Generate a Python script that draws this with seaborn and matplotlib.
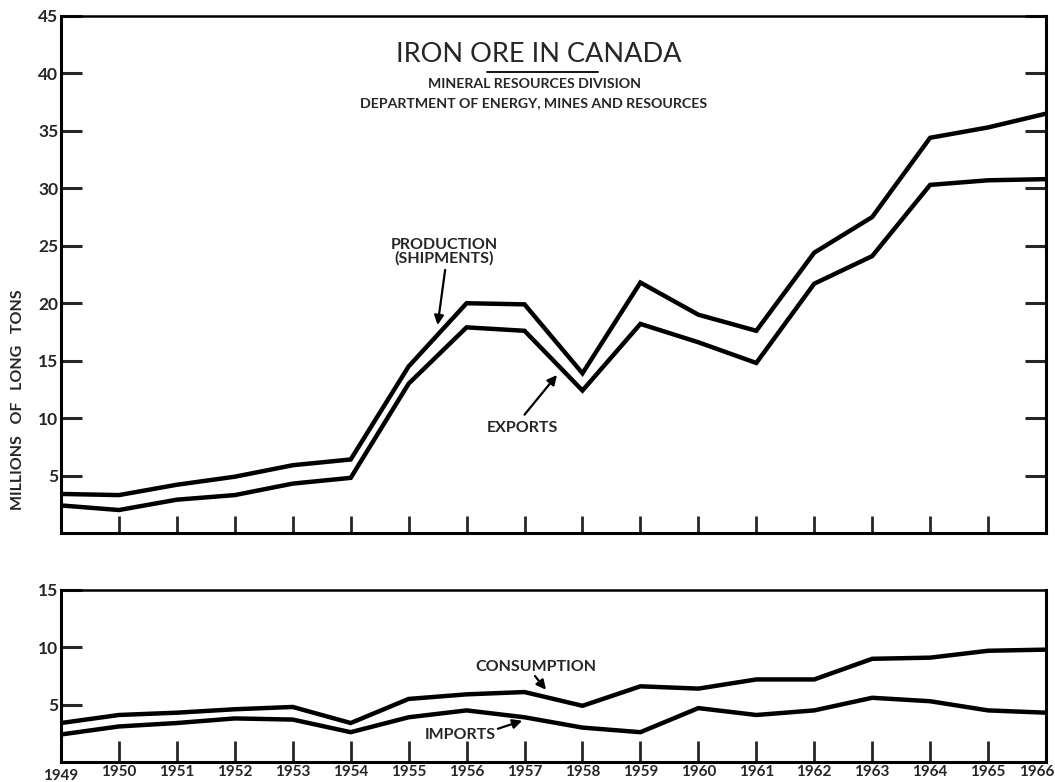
import matplotlib
matplotlib.use("Agg")
import matplotlib.pyplot as plt
from matplotlib.lines import Line2D
from matplotlib.transforms import ScaledTranslation
import seaborn as sns
import pandas as pd

# Iron ore in Canada, 1949-1966 (millions of long tons)
years = list(range(1949, 1967))
production = [3.4, 3.3, 4.2, 4.9, 5.9, 6.4, 14.5, 20.0, 19.9, 13.9,
              21.8, 19.0, 17.6, 24.4, 27.5, 34.4, 35.3, 36.5]
exports = [2.4, 2.0, 2.9, 3.3, 4.3, 4.8, 13.0, 17.9, 17.6, 12.4,
           18.2, 16.6, 14.8, 21.7, 24.1, 30.3, 30.7, 30.8]
consumption = [3.4, 4.1, 4.3, 4.6, 4.8, 3.4, 5.5, 5.9, 6.1, 4.9,
               6.6, 6.4, 7.2, 7.2, 9.0, 9.1, 9.7, 9.8]
imports = [2.4, 3.1, 3.4, 3.8, 3.7, 2.6, 3.9, 4.5, 3.9, 3.0,
           2.6, 4.7, 4.1, 4.5, 5.6, 5.3, 4.5, 4.3]

top_ticks = [5, 10, 15, 20, 25, 30, 35, 40, 45]
bottom_ticks = [5, 10, 15]
year_labels = [str(y) for y in years]

title = "IRON ORE IN CANADA"
subtitle1 = "MINERAL RESOURCES DIVISION"
subtitle2 = "DEPARTMENT OF ENERGY, MINES AND RESOURCES"
ylabel = "MILLIONS   OF   LONG   TONS"

sns.set_style("white")
plt.rcParams["font.family"] = ["Lato", "DejaVu Sans"]

df_top = pd.DataFrame({"year": years, "production": production, "exports": exports})
df_bot = pd.DataFrame({"year": years, "consumption": consumption, "imports": imports})

W, H = 1055, 782
fig = plt.figure(figsize=(W / 100, H / 100), dpi=100)
fig.patch.set_facecolor("white")

left = 61 / W
width = (1046 - 61) / W
ax1 = fig.add_axes([left, 1 - 533 / H, width, (533 - 16) / H])
ax2 = fig.add_axes([left, 1 - 762 / H, width, (762 - 590) / H])

line_kw = dict(color="black", linewidth=3.2, solid_joinstyle="miter")
sns.lineplot(data=df_top, x="year", y="production", ax=ax1, **line_kw)
sns.lineplot(data=df_top, x="year", y="exports", ax=ax1, **line_kw)
sns.lineplot(data=df_bot, x="year", y="consumption", ax=ax2, **line_kw)
sns.lineplot(data=df_bot, x="year", y="imports", ax=ax2, **line_kw)

for ax in (ax1, ax2):
    ax.set_xlim(years[0], years[-1])
    ax.set_xlabel("")
    ax.set_ylabel("")
    for side in ("left", "right", "top", "bottom"):
        ax.spines[side].set_visible(True)
        ax.spines[side].set_color("black")
        ax.spines[side].set_linewidth(2.2)
    ax.spines["top"].set_linewidth(1.8)
    ax.set_xticks(years[1:-1])

# top panel
ax1.set_ylim(0, 45)
ax1.set_yticks(top_ticks)
ax1.set_yticklabels([str(t) for t in top_ticks], fontsize=12.5, fontweight="bold")
ax1.tick_params(axis="y", direction="in", length=15, width=2.2, left=True,
                right=True, labelright=False, pad=2)
ax1.tick_params(axis="x", direction="in", length=12, width=2, bottom=True,
                labelbottom=False)

# bottom panel
ax2.set_ylim(0, 15)
ax2.set_yticks(bottom_ticks)
ax2.set_yticklabels([str(t) for t in bottom_ticks], fontsize=12.5, fontweight="bold")
ax2.tick_params(axis="y", direction="in", length=15, width=2.2, left=True, pad=2)
ax2.set_xticks(years)
ax2.set_xticklabels(year_labels, fontsize=11, fontweight="bold")
ax2.tick_params(axis="x", direction="in", length=15, width=2, bottom=True, pad=2)
ax2.get_xticklines()[0].set_visible(False)
ax2.get_xticklines()[-1].set_visible(False)
xlabels = ax2.get_xticklabels()
xlabels[0].set_transform(xlabels[0].get_transform()
                         + ScaledTranslation(0, -4 / 100, fig.dpi_scale_trans))
xlabels[-1].set_horizontalalignment("right")
xlabels[-1].set_transform(xlabels[-1].get_transform()
                          + ScaledTranslation(8 / 100, 0, fig.dpi_scale_trans))

# titles (placed by baseline)
fig.text(539 / W, 1 - 62 / H, title, ha="center", va="baseline", fontsize=19.5)
fig.add_artist(Line2D([487 / W, 598 / W], [1 - 71.5 / H] * 2, color="black",
                      linewidth=1.3, transform=fig.transFigure))
fig.text(535 / W, 1 - 87.5 / H, subtitle1, ha="center", va="baseline",
         fontsize=10.2, fontweight="bold")
fig.text(534 / W, 1 - 107.5 / H, subtitle2, ha="center", va="baseline",
         fontsize=10.2, fontweight="bold")
fig.text(18 / W, 1 - 400 / H, ylabel, rotation=90, ha="center", va="center",
         fontsize=11.5, fontweight="bold")

# series labels with arrows
arrow = dict(arrowstyle="-|>", color="black", lw=1.6, mutation_scale=14,
             shrinkA=0, shrinkB=0)
ax1.text(1955.61, 24.5, "PRODUCTION\n(SHIPMENTS)", ha="center", va="center",
         fontsize=11.5, fontweight="bold", linespacing=0.95)
ax1.annotate("", xy=(1955.5, 18.1), xytext=(1955.63, 22.9), arrowprops=arrow)
ax1.text(1956.96, 9.1, "EXPORTS", ha="center", va="center",
         fontsize=11.5, fontweight="bold")
ax1.annotate("", xy=(1957.56, 13.75), xytext=(1957.0, 10.3), arrowprops=arrow)

ax2.text(1957.2, 8.3, "CONSUMPTION", ha="center", va="center",
         fontsize=11.5, fontweight="bold")
ax2.annotate("", xy=(1957.37, 6.3), xytext=(1957.18, 7.5), arrowprops=arrow)
ax2.text(1955.89, 2.35, "IMPORTS", ha="center", va="center",
         fontsize=11.5, fontweight="bold")
ax2.annotate("", xy=(1956.96, 3.6), xytext=(1956.54, 2.9), arrowprops=arrow)

fig.savefig("out.png", dpi=100, facecolor="white")
